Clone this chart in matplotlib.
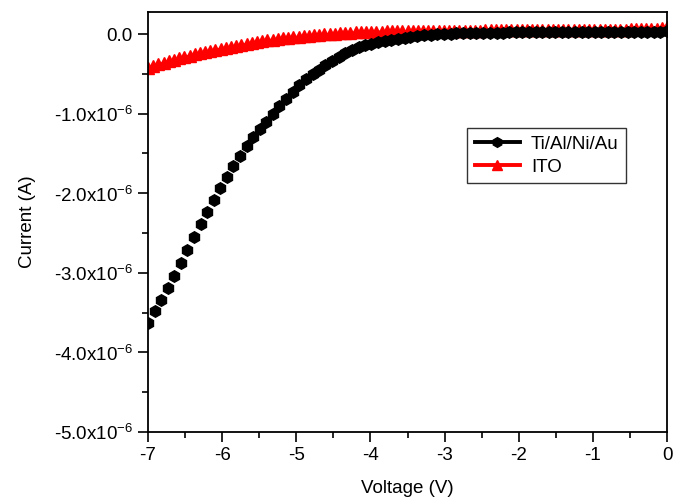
import matplotlib
matplotlib.use("Agg")
import matplotlib.pyplot as plt
from matplotlib.ticker import MultipleLocator, FuncFormatter

# ---- data (current in units of 1e-6 A) ----
v_tal = [-7.00, -6.91, -6.82, -6.73, -6.65, -6.56, -6.47, -6.38, -6.29, -6.20,
         -6.11, -6.03, -5.94, -5.85, -5.76, -5.67, -5.58, -5.49, -5.41, -5.32,
         -5.23, -5.14, -5.05, -4.96, -4.87, -4.78, -4.70, -4.61, -4.52, -4.43,
         -4.34, -4.25, -4.16, -4.08, -3.99, -3.90, -3.81, -3.72, -3.63, -3.54,
         -3.46, -3.37, -3.28, -3.19, -3.10, -3.01, -2.92, -2.84, -2.75, -2.66,
         -2.57, -2.48, -2.39, -2.30, -2.21, -2.13, -2.04, -1.95, -1.86, -1.77,
         -1.68, -1.59, -1.51, -1.42, -1.33, -1.24, -1.15, -1.06, -0.97, -0.89,
         -0.80, -0.71, -0.62, -0.53, -0.44, -0.35, -0.27, -0.18, -0.09, 0.00]
i_tal = [-3.63, -3.48, -3.34, -3.19, -3.04, -2.88, -2.71, -2.55, -2.39, -2.24,
         -2.08, -1.94, -1.79, -1.66, -1.53, -1.41, -1.29, -1.19, -1.10, -1.00,
         -0.90, -0.81, -0.73, -0.64, -0.57, -0.50, -0.45, -0.39, -0.34, -0.29,
         -0.24, -0.20, -0.165, -0.14, -0.12, -0.10, -0.085, -0.07, -0.056, -0.044,
         -0.033, -0.023, -0.015, -0.008, -0.002, 0.003, 0.007, 0.010, 0.013, 0.015,
         0.016, 0.017, 0.018, 0.019, 0.020, 0.021, 0.021, 0.022, 0.022, 0.023,
         0.023, 0.024, 0.024, 0.025, 0.025, 0.026, 0.026, 0.027, 0.027, 0.028,
         0.028, 0.029, 0.029, 0.030, 0.030, 0.031, 0.031, 0.032, 0.032, 0.033]

v_ito = [-7.00, -6.93, -6.86, -6.79, -6.72, -6.65, -6.58, -6.51, -6.44, -6.37,
         -6.30, -6.23, -6.16, -6.09, -6.02, -5.95, -5.88, -5.81, -5.74, -5.67,
         -5.60, -5.53, -5.46, -5.39, -5.32, -5.25, -5.18, -5.11, -5.04, -4.97,
         -4.90, -4.83, -4.76, -4.69, -4.62, -4.55, -4.48, -4.41, -4.34, -4.27,
         -4.20, -4.13, -4.06, -3.99, -3.92, -3.85, -3.78, -3.71, -3.64, -3.57,
         -3.50, -3.43, -3.36, -3.29, -3.22, -3.15, -3.08, -3.01, -2.94, -2.87,
         -2.80, -2.73, -2.66, -2.59, -2.52, -2.45, -2.38, -2.31, -2.24, -2.17,
         -2.10, -2.03, -1.96, -1.89, -1.82, -1.75, -1.68, -1.61, -1.54, -1.47,
         -1.40, -1.33, -1.26, -1.19, -1.12, -1.05, -0.98, -0.91, -0.84, -0.77,
         -0.70, -0.63, -0.56, -0.49, -0.42, -0.35, -0.28, -0.21, -0.14, -0.07, 0.00]
i_ito = [-0.420, -0.399, -0.378, -0.358, -0.340, -0.322, -0.305, -0.288, -0.270, -0.254,
         -0.240, -0.226, -0.212, -0.198, -0.184, -0.171, -0.159, -0.147, -0.134, -0.122,
         -0.110, -0.100, -0.089, -0.079, -0.070, -0.061, -0.053, -0.046, -0.039, -0.032,
         -0.025, -0.018, -0.012, -0.007, -0.002, 0.003, 0.007, 0.011, 0.015, 0.018,
         0.021, 0.024, 0.027, 0.029, 0.031, 0.032, 0.033, 0.035, 0.036, 0.037,
         0.038, 0.039, 0.039, 0.040, 0.041, 0.041, 0.042, 0.042, 0.043, 0.043,
         0.044, 0.044, 0.045, 0.045, 0.045, 0.046, 0.046, 0.046, 0.047, 0.047,
         0.047, 0.048, 0.048, 0.048, 0.049, 0.049, 0.049, 0.050, 0.050, 0.050,
         0.051, 0.051, 0.051, 0.052, 0.052, 0.052, 0.053, 0.053, 0.054, 0.054,
         0.055, 0.056, 0.057, 0.058, 0.059, 0.061, 0.063, 0.066, 0.070, 0.076, 0.085]

labels = ["Ti/Al/Ni/Au", "ITO"]

# ---- style ----
plt.rcParams["font.family"] = ["Liberation Sans", "DejaVu Sans"]
plt.rcParams["mathtext.fontset"] = "custom"
plt.rcParams["mathtext.rm"] = "Liberation Sans"
plt.rcParams["axes.unicode_minus"] = False


def _fmt(val, pos):
    m = val * 1e6
    if abs(m) < 1e-9:
        return "0.0"
    return f"{m:.1f}x10$^{{\\mathregular{{-6}}}}$"


fig = plt.figure(figsize=(6.84, 4.99), dpi=100)
ax = fig.add_axes([0.2164, 0.1343, 0.7588, 0.842])

ax.plot(v_ito, [i * 1e-6 for i in i_ito], color="red", marker="^",
        markersize=8, linewidth=1.5, label=labels[1], zorder=2)
ax.plot(v_tal, [i * 1e-6 for i in i_tal], color="black", marker="h",
        markersize=8.3, linewidth=0, label=labels[0], zorder=3)

ax.set_xlim(-7, 0)
ax.set_ylim(-5.0e-6, 0.28e-6)
ax.xaxis.set_major_locator(MultipleLocator(1))
ax.xaxis.set_minor_locator(MultipleLocator(0.5))
ax.yaxis.set_major_locator(MultipleLocator(1e-6))
ax.yaxis.set_minor_locator(MultipleLocator(0.5e-6))
ax.yaxis.set_major_formatter(FuncFormatter(_fmt))
ax.xaxis.set_major_formatter(FuncFormatter(lambda v, p: f"{v:.0f}" if v != 0 else "0"))

ax.tick_params(which="major", direction="out", length=7, width=1.2, labelsize=13.5, pad=4)
ax.tick_params(which="minor", direction="out", length=4, width=1.2)
ax.tick_params(top=False, right=False, which="both")
for s in ax.spines.values():
    s.set_linewidth(1.3)

ax.set_xlabel("Voltage (V)", fontsize=13.5, labelpad=11)
ax.set_ylabel("Current (A)", fontsize=13.5, labelpad=13)

handles, labs = ax.get_legend_handles_labels()
leg = ax.legend(handles[::-1], labs[::-1], loc="upper left", bbox_to_anchor=(0.597, 0.745),
                fontsize=13.5, frameon=True, fancybox=False, edgecolor="black",
                handlelength=2.4, borderpad=0.4, labelspacing=0.3, handletextpad=0.6)
leg.get_frame().set_linewidth(1.0)
for h in leg.legend_handles:
    h.set_linestyle("-")
    h.set_linewidth(2.8)
    h.set_markersize(7)

fig.savefig("out.png", dpi=100)
plt.close(fig)
